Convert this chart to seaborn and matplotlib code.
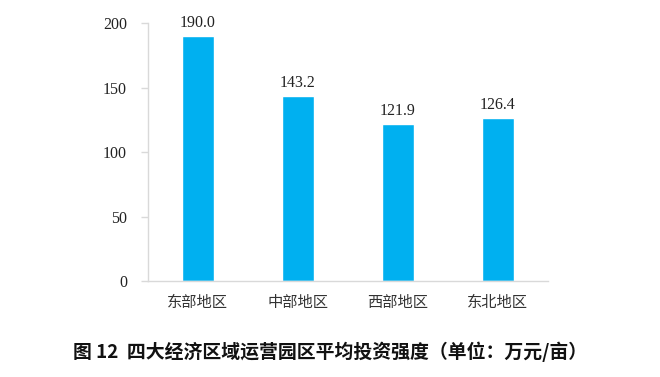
import matplotlib
matplotlib.use('Agg')
import matplotlib.pyplot as plt
import seaborn as sns
import pandas as pd

# data
regions = ['东部地区', '中部地区', '西部地区', '东北地区']
intensity = [190.0, 143.2, 121.9, 126.4]
yticks = [0, 50, 100, 150, 200]
title = '图 12  四大经济区域运营园区平均投资强度（单位：万元/亩）'

df = pd.DataFrame({'region': regions, 'value': intensity})

sns.set_style('white')
plt.rcParams['font.family'] = ['Liberation Serif', 'Noto Sans CJK SC', 'DejaVu Sans']

fig = plt.figure(figsize=(6.6, 3.77), dpi=100)
ax = fig.add_axes([0.224, 0.2546, 0.606, 0.6844])

sns.barplot(data=df, x='region', y='value', color='#00B0F0', width=0.32,
            saturation=1, ax=ax)

for i, v in enumerate(intensity):
    ax.text(i, v + 4, f'{v:.1f}', ha='center', va='bottom', fontsize=11.5,
            color='#222222', family='Liberation Serif')

ax.set_xlim(-0.5, len(regions) - 0.5)
ax.set_ylim(0, 200)
ax.set_yticks(yticks)
ax.set_xlabel('')
ax.set_ylabel('')

for lbl in ax.get_yticklabels():
    lbl.set_family('Liberation Serif')
    lbl.set_fontsize(11.5)
    lbl.set_color('#222222')
for lbl in ax.get_xticklabels():
    lbl.set_family(['Noto Sans CJK SC', 'DejaVu Sans'])
    lbl.set_fontsize(11)
    lbl.set_color('#333333')

ax.tick_params(axis='x', which='major', length=0, pad=9)
ax.set_xticks([i - 0.5 for i in range(len(regions) + 1)], minor=True)
ax.tick_params(axis='x', which='minor', length=5, color='#D9D9D9', width=1)
ax.tick_params(axis='y', length=5, color='#D9D9D9', width=1, pad=10, left=True)

for s in ['top', 'right']:
    ax.spines[s].set_visible(False)
for s in ['left', 'bottom']:
    ax.spines[s].set_color('#D9D9D9')
    ax.spines[s].set_linewidth(1)

fig.text(0.5, 0.066, title, ha='center', va='center', fontsize=13.6,
         fontweight='bold', family=['Noto Sans CJK SC', 'DejaVu Sans'],
         color='#111111')

fig.savefig('out.png', dpi=100)
